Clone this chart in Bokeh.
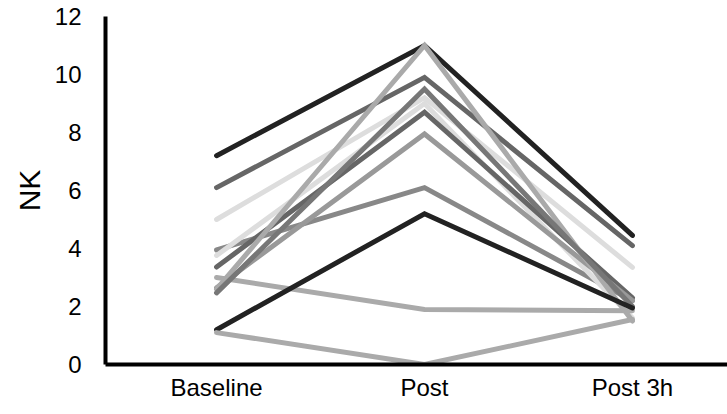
from bokeh.plotting import figure
from bokeh.models import Range1d, FixedTicker
from bokeh.embed import file_html
from bokeh.resources import INLINE

categories = ["Baseline", "Post", "Post 3h"]
baseline = [7.2, 6.1, 5.0, 3.95, 3.76, 3.36, 3.0, 2.65, 2.6, 2.47, 1.2, 1.1]
post = [11.0, 9.9, 9.2, 6.1, 9.0, 8.7, 1.9, 7.95, 11.0, 9.5, 5.2, 0.0]
post3h = [4.45, 4.1, 3.35, 2.2, 1.6, 2.3, 1.85, 2.2, 1.5, 2.0, 1.95, 1.55]
colors = ["#222222", "#666666", "#dddddd", "#888888", "#dddddd", "#666666",
          "#aaaaaa", "#999999", "#aaaaaa", "#777777", "#222222", "#aaaaaa"]
y_ticks = [0, 2, 4, 6, 8, 10, 12]

FONT = "Liberation Sans"

p = figure(width=727, height=414, output_backend="svg", toolbar_location=None,
           x_range=Range1d(-0.534, 2.457), y_range=Range1d(0, 12),
           min_border_left=105, min_border_top=16, min_border_bottom=50, min_border_right=0)
p.outline_line_color = None
p.grid.visible = False

xs = list(range(len(categories)))
for b, po, p3, c in zip(baseline, post, post3h, colors):
    p.line(xs, [b, po, p3], line_color=c, line_width=5, line_cap="round", line_join="miter")

p.xaxis.ticker = FixedTicker(ticks=xs)
p.xaxis.major_label_overrides = {i: c for i, c in enumerate(categories)}
p.yaxis.ticker = FixedTicker(ticks=y_ticks)
p.yaxis.axis_label = "NK"

for ax in (p.xaxis[0], p.yaxis[0]):
    ax.axis_line_width = 4
    ax.axis_line_color = "black"
    ax.major_tick_line_color = None
    ax.minor_tick_line_color = None
    ax.major_tick_in = 0
    ax.major_tick_out = 0
    ax.major_label_text_font = FONT
    ax.major_label_text_font_size = "24px"
    ax.major_label_text_color = "black"
    ax.axis_label_text_font = FONT
    ax.axis_label_text_font_style = "normal"
    ax.axis_label_text_font_size = "30px"
    ax.axis_label_text_color = "black"

p.yaxis.major_label_standoff = 24
p.yaxis.axis_label_standoff = 6
p.xaxis.major_label_standoff = 9

open("out.html", "w").write(file_html(p, INLINE))
